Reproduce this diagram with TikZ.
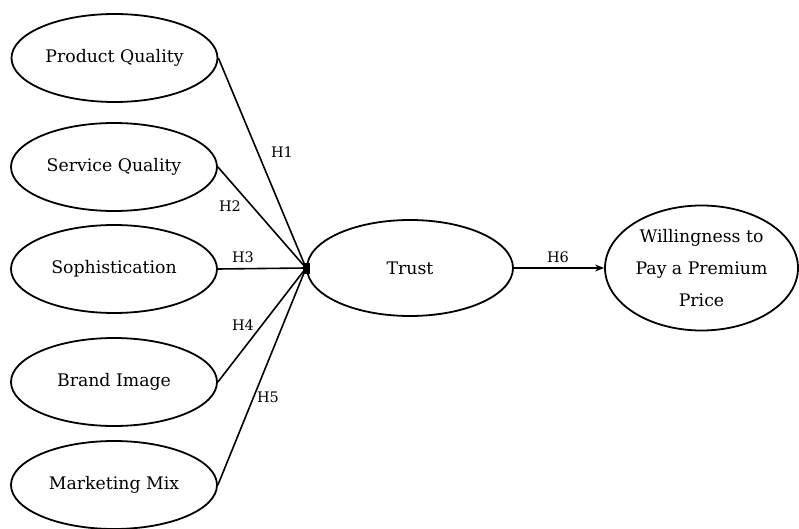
\documentclass[tikz,border=0pt]{standalone}
\usepackage{fontspec}
\setmainfont{DejaVu Serif}
\usetikzlibrary{shapes.geometric,arrows.meta}
\begin{document}
\begin{tikzpicture}[x=1pt,y=-1pt,
  construct/.style={ellipse,draw,line width=1.8pt,inner sep=0pt,minimum width=206pt,minimum height=88pt,font=\fontsize{17.3}{20}\selectfont,align=center},
  link/.style={line width=1.6pt},
  hlabel/.style={font=\fontsize{14.5}{17}\selectfont,inner sep=0pt}]
\useasboundingbox (0,0) rectangle (799,529);
\node[construct] (pq) at (114.5,58) {Product Quality};
\node[construct] (sq) at (114,167) {Service Quality};
\node[construct] (so) at (114,269) {Sophistication};
\node[construct] (bi) at (114,382) {Brand Image};
\node[construct] (mm) at (114,485) {Marketing Mix};
\node[construct,minimum width=206pt,minimum height=96pt] (tr) at (410,268) {Trust};
\node[construct,minimum width=193pt,minimum height=125pt,font=\fontsize{17.3}{32}\selectfont] (wp) at (701.5,268) {Willingness to\\Pay a Premium\\Price};
\coordinate (j) at (306,268);
\draw[link] (pq.east) -- (j);
\draw[link] (sq.east) -- (j);
\draw[link] (so.east) -- (j);
\draw[link] (bi.east) -- (j);
\draw[link] (mm.east) -- (j);
\node[fill=black,minimum width=7pt,minimum height=11pt,inner sep=0pt] (jd) at (j) {};
\draw[link,-{Stealth[length=9pt,width=7pt]}] (tr.east) -- (wp.west);
\node[hlabel] (h1) at (282,152) {H1};
\node[hlabel] (h2) at (230,206) {H2};
\node[hlabel] (h3) at (243,257) {H3};
\node[hlabel] (h4) at (243,325) {H4};
\node[hlabel] (h5) at (268,397) {H5};
\node[hlabel] (h6) at (558,257) {H6};
\end{tikzpicture}
\end{document}
